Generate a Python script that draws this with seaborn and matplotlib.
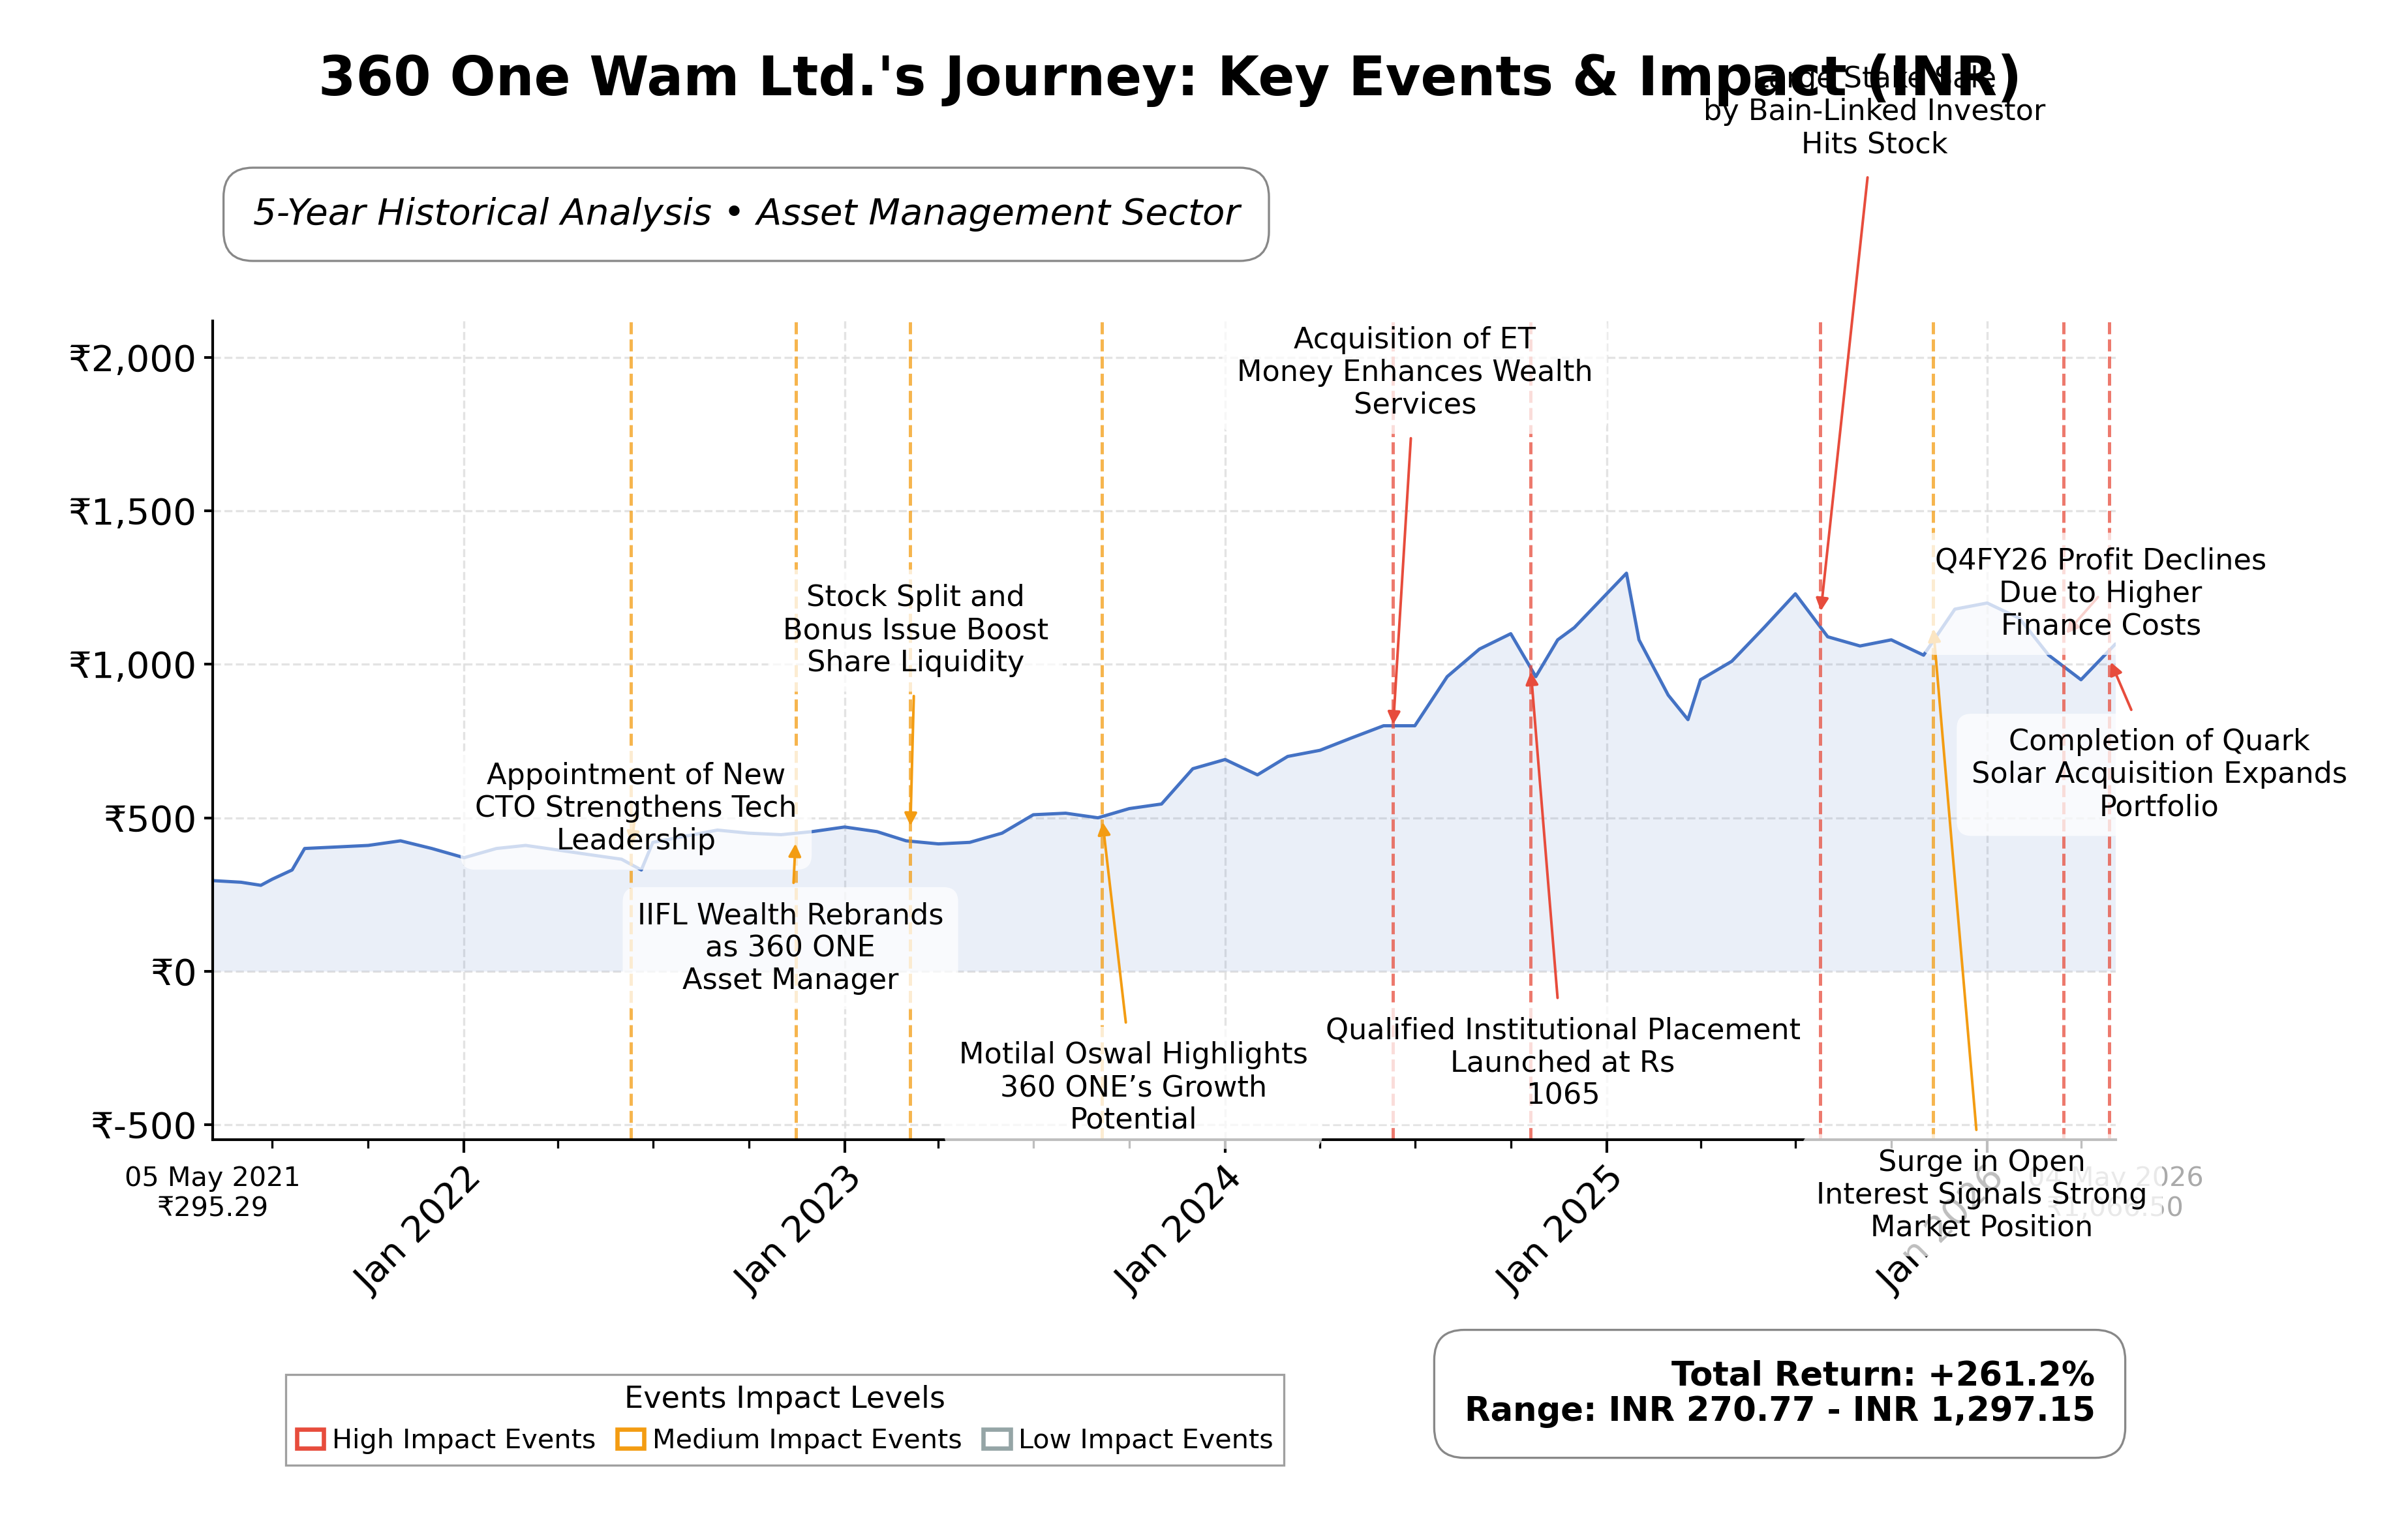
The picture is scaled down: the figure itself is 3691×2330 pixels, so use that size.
import numpy as np
import pandas as pd
import matplotlib
matplotlib.use("Agg")
import matplotlib.pyplot as plt
import matplotlib.dates as mdates
from matplotlib.patches import Patch
import seaborn as sns

sns.set_theme(style="white")
plt.rcParams['font.family'] = ['DejaVu Sans']
plt.rcParams.update({"text.color": "black", "axes.labelcolor": "black", "xtick.color": "black",
                     "ytick.color": "black", "axes.edgecolor": "black"})

dates = pd.to_datetime([
    "2021-05-05", "2021-06-01", "2021-06-20", "2021-07-01", "2021-07-20", "2021-08-01", "2021-09-01", "2021-10-01",
    "2021-11-01", "2021-12-01",
    "2022-01-01", "2022-02-01", "2022-03-01", "2022-04-01", "2022-05-01", "2022-06-01", "2022-06-20", "2022-07-01",
    "2022-08-01", "2022-09-01", "2022-10-01", "2022-11-01", "2022-12-01",
    "2023-01-01", "2023-02-01", "2023-03-01", "2023-04-01", "2023-05-01", "2023-06-01", "2023-07-01", "2023-08-01",
    "2023-09-01", "2023-10-01", "2023-11-01", "2023-12-01",
    "2024-01-01", "2024-02-01", "2024-03-01", "2024-04-01", "2024-05-01", "2024-06-01", "2024-07-01", "2024-08-01",
    "2024-09-01", "2024-10-01", "2024-10-25", "2024-11-15", "2024-12-01",
    "2025-01-01", "2025-01-20", "2025-02-01", "2025-03-01", "2025-03-20", "2025-04-01", "2025-05-01", "2025-06-01",
    "2025-07-01", "2025-08-01", "2025-09-01", "2025-10-01", "2025-11-01", "2025-12-01",
    "2026-01-01", "2026-02-01", "2026-03-01", "2026-04-01", "2026-05-04",
])
prices = [
    295.29, 290, 280, 300, 330, 400, 405, 410,
    425, 400,
    370, 400, 410, 395, 380, 365, 330, 420,
    440, 460, 450, 445, 455,
    470, 455, 425, 415, 420, 450, 510, 515,
    500, 530, 545, 660,
    690, 640, 700, 720, 760, 800, 800, 960,
    1050, 1100, 960, 1080, 1120,
    1230, 1297.15, 1080, 900, 820, 950, 1010, 1120,
    1230, 1090, 1060, 1080, 1030, 1180,
    1200, 1150, 1030, 950, 1066.50,
]

ev_dates = pd.to_datetime([
    "2022-06-10", "2022-11-15", "2023-03-05", "2023-09-05", "2024-06-10",
    "2024-10-20", "2025-07-25", "2025-11-10", "2026-03-15", "2026-04-28",
])
ev_labels = [
    "Appointment of New\nCTO Strengthens Tech\nLeadership",
    "IIFL Wealth Rebrands\nas 360 ONE\nAsset Manager",
    "Stock Split and\nBonus Issue Boost\nShare Liquidity",
    "Motilal Oswal Highlights\n360 ONE\u2019s Growth\nPotential",
    "Acquisition of ET\nMoney Enhances Wealth\nServices",
    "Qualified Institutional Placement\nLaunched at Rs\n1065",
    "Large Stake Sale\nby Bain-Linked Investor\nHits Stock",
    "Surge in Open\nInterest Signals Strong\nMarket Position",
    "Q4FY26 Profit Declines\nDue to Higher\nFinance Costs",
    "Completion of Quark\nSolar Acquisition Expands\nPortfolio",
]
ev_impact = ["medium", "medium", "medium", "medium", "high", "high", "high", "medium", "high", "high"]
ev_price = [400, 430, 460, 500, 790, 990, 1160, 1130, 1090, 1020]
ev_text_date = pd.to_datetime([
    "2022-06-15", "2022-11-10", "2023-03-10", "2023-10-05", "2024-07-01",
    "2024-11-20", "2025-09-15", "2025-12-27", "2026-04-20", "2026-06-15",
])
ev_text_price = [530, 75, 1110, -380, 1950, -300, 2800, -730, 1230, 640]

colors = {"high": "#e74c3c", "medium": "#f39c12", "low": "#95a5a6"}

fig = plt.figure(figsize=(15.51, 9.79), dpi=238)
ax = fig.add_axes([0.0884, 0.25, 0.79, 0.539])

df = pd.DataFrame({"date": dates, "price": prices})
ax.fill_between(df["date"], df["price"], 0, color="#4472c4", alpha=0.11, linewidth=0)
sns.lineplot(data=df, x="date", y="price", ax=ax, color="#4472c4", linewidth=1.5)

for d, lab, imp, p, td, tp in zip(ev_dates, ev_labels, ev_impact, ev_price, ev_text_date, ev_text_price):
    c = colors[imp]
    ax.axvline(d, color=c, linestyle="--", linewidth=1.5, alpha=0.75)
    ax.annotate(lab, xy=(d, p), xytext=(td, tp), ha="center", va="center", fontsize=13.5,
                bbox=dict(boxstyle="round,pad=0.5", facecolor="white", edgecolor="none", alpha=0.75),
                arrowprops=dict(arrowstyle="-|>", color=c, lw=1.2, mutation_scale=12),
                annotation_clip=False, zorder=5)

ax.set_xlim(dates[0], dates[-1])
ax.set_ylim(-550, 2120)
ax.yaxis.set_major_locator(matplotlib.ticker.MultipleLocator(500))
ax.yaxis.set_major_formatter(matplotlib.ticker.FuncFormatter(lambda v, _: f"\u20b9{v:,.0f}"))
ax.xaxis.set_major_locator(mdates.YearLocator())
ax.xaxis.set_major_formatter(mdates.DateFormatter("%b %Y"))
ax.xaxis.set_minor_locator(mdates.MonthLocator(bymonth=[4, 7, 10]))
ax.tick_params(axis="x", which="major", labelsize=17, rotation=45, length=6)
ax.tick_params(axis="x", which="minor", length=4)
ax.tick_params(axis="y", labelsize=17, length=4, left=True)
ax.tick_params(axis="x", bottom=True, which="both")
for lbl in ax.get_xticklabels():
    lbl.set_ha("right")
    lbl.set_rotation_mode("anchor")
ax.grid(True, linestyle="--", color="#dddddd", alpha=0.8)
sns.despine(ax=ax)
ax.set_xlabel("")
ax.set_ylabel("")

ax.annotate("05 May 2021\n\u20b9295.29", xy=(dates[0], -550), xytext=(0, -12), textcoords="offset points",
            ha="center", va="top", fontsize=12.5)
ax.annotate("04 May 2026\n\u20b91,066.50", xy=(dates[-1], -550), xytext=(0, -12), textcoords="offset points",
            ha="center", va="top", fontsize=12.5, color="#aaaaaa")

fig.text(0.486, 0.947, "360 One Wam Ltd.'s Journey: Key Events & Impact (INR)", ha="center", va="center",
         fontsize=25, fontweight="bold")
fig.text(0.105, 0.859, "5-Year Historical Analysis \u2022 Asset Management Sector", ha="left", va="center",
         fontsize=17, style="italic",
         bbox=dict(boxstyle="round,pad=0.8", facecolor="white", edgecolor="#888888"))
fig.text(0.87, 0.083, "Total Return: +261.2%\nRange: INR 270.77 - INR 1,297.15", ha="right", va="center",
         fontsize=15.5, fontweight="bold", linespacing=1.1,
         bbox=dict(boxstyle="round,pad=0.9", facecolor="white", edgecolor="#888888"))

handles = [Patch(facecolor="white", edgecolor=colors[k], linewidth=2, label=l)
           for k, l in [("high", "High Impact Events"), ("medium", "Medium Impact Events"), ("low", "Low Impact Events")]]
fig.legend(handles=handles, title="Events Impact Levels", loc="center", bbox_to_anchor=(0.326, 0.066),
           ncol=3, fontsize=12.5, title_fontsize=14, frameon=True, edgecolor="#888888",
           handlelength=1.0, handletextpad=0.3, columnspacing=0.8, fancybox=False)

fig.savefig("out.png", dpi=238)
